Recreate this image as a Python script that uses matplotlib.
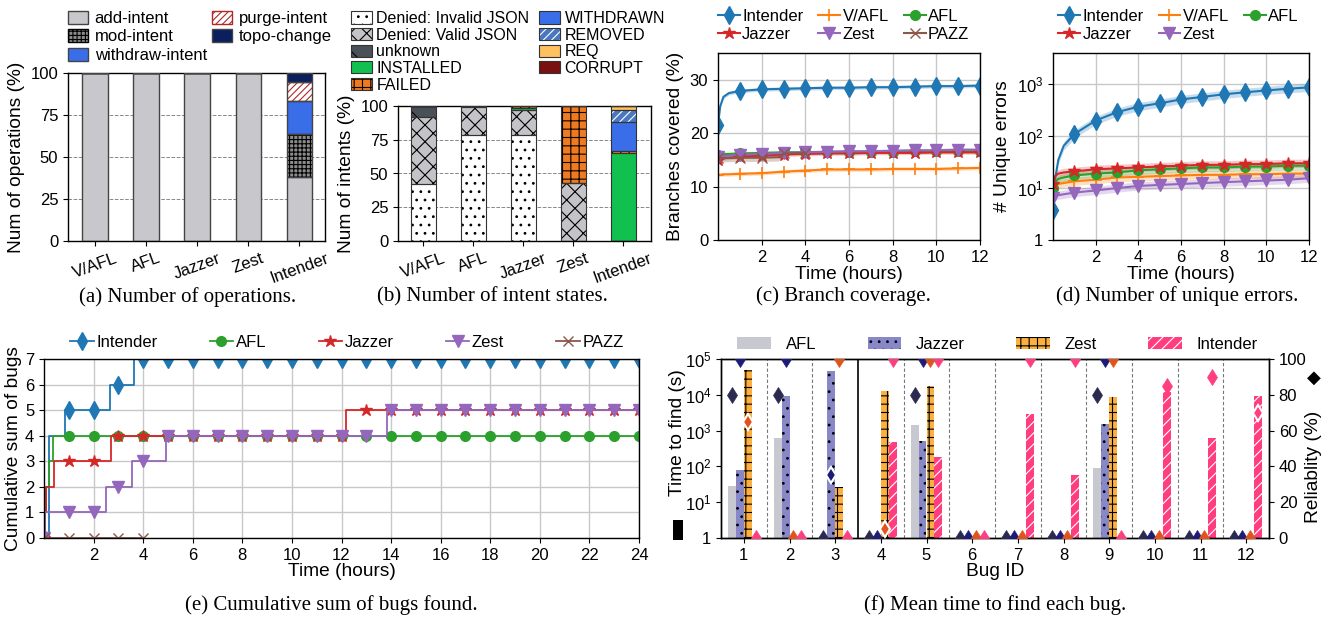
import numpy as np
import matplotlib
matplotlib.use('Agg')
import matplotlib.pyplot as plt
from matplotlib.patches import Patch, Rectangle
from matplotlib.lines import Line2D
from matplotlib.ticker import FuncFormatter, FixedLocator, NullLocator

plt.rcParams['font.family'] = ['Liberation Sans', 'DejaVu Sans']
plt.rcParams['mathtext.default'] = 'regular'
plt.rcParams['hatch.linewidth'] = 0.8
plt.rcParams['axes.linewidth'] = 1.0

# ---------------- data ----------------
tools_ab = ['V/AFL', 'AFL', 'Jazzer', 'Zest', 'Intender']

ops_labels = ['add-intent', 'mod-intent', 'withdraw-intent', 'purge-intent', 'topo-change']
ops_add = [100, 100, 100, 100, 38.3]
ops_mod = [0, 0, 0, 0, 25.2]
ops_withdraw = [0, 0, 0, 0, 20.0]
ops_purge = [0, 0, 0, 0, 11.3]
ops_topo = [0, 0, 0, 0, 5.2]

st_labels = ['Denied: Invalid JSON', 'Denied: Valid JSON', 'unknown', 'INSTALLED', 'FAILED',
             'WITHDRAWN', 'REMOVED', 'REQ', 'CORRUPT']
st_invalid = [42, 78.5, 78.5, 0, 0]
st_valid = [50, 20.8, 18.5, 43, 0]
st_unknown = [8, 0.7, 0, 0, 0]
st_installed = [0, 0, 1.2, 0, 65]
st_failed = [0, 0, 1.8, 57, 1.5]
st_withdrawn = [0, 0, 0, 0, 22]
st_removed = [0, 0, 0, 0, 8.5]
st_req = [0, 0, 0, 0, 3]
st_corrupt = [0, 0, 0, 0, 0]

t_c = [0, 0.1, 0.25, 0.5, 1, 2, 3, 4, 5, 6, 7, 8, 9, 10, 11, 12]
cov_intender = [21.5, 25.0, 26.8, 27.5, 27.9, 28.2, 28.3, 28.4, 28.5, 28.5, 28.6, 28.6, 28.7, 28.8, 28.8, 28.9]
cov_vafl = [12.2, 12.2, 12.3, 12.3, 12.4, 12.5, 12.8, 13.0, 13.2, 13.2, 13.2, 13.3, 13.3, 13.3, 13.4, 13.5]
cov_afl = [16.0, 16.0, 16.1, 16.1, 16.2, 16.3, 16.4, 16.4, 16.5, 16.5, 16.5, 16.5, 16.6, 16.6, 16.6, 16.6]
cov_jazzer = [15.0, 15.2, 15.3, 15.4, 15.6, 15.8, 16.0, 16.1, 16.2, 16.2, 16.3, 16.3, 16.3, 16.4, 16.4, 16.4]
cov_zest = [15.5, 15.6, 15.7, 15.8, 16.0, 16.1, 16.3, 16.4, 16.5, 16.6, 16.6, 16.7, 16.8, 16.8, 16.9, 16.9]
t_pazz = [0, 1, 2, 2.8, 3, 4]
cov_pazz = [15.3, 15.4, 15.4, 15.5, 16.2, 16.3]

t_d = [0, 0.1, 0.25, 0.5, 1, 2, 3, 4, 5, 6, 7, 8, 9, 10, 11, 12]
err_intender = [3.8, 15, 35, 65, 110, 200, 290, 370, 430, 510, 570, 640, 700, 760, 820, 870]
err_vafl = [9, 11, 12, 12.5, 13.5, 14.5, 16, 16.5, 17, 17.5, 18, 18, 18.5, 18.5, 19, 19]
err_afl = [10, 13, 15, 16, 17.5, 19, 20, 22, 23, 24, 25, 25, 26, 26, 27, 27]
err_jazzer = [12, 17, 19, 20, 21, 23, 24, 25, 26, 27, 28, 28, 29, 29, 30, 30]
err_zest = [6.5, 7, 7.3, 7.6, 8.2, 9, 10, 11, 11.5, 12, 12.5, 13, 13.5, 14, 14.5, 15.5]

bug_t_intender = [0, 0.2, 0.83, 2.67, 3.63]
bug_v_intender = [0, 4, 5, 6, 7]
bug_t_afl = [0, 0.03, 0.08, 0.19, 0.36]
bug_v_afl = [0, 1, 2, 3, 4]
bug_t_jazzer = [0, 0.05, 0.09, 0.4, 2.7, 12.2]
bug_v_jazzer = [0, 1, 2, 3, 4, 5]
bug_t_zest = [0, 0.05, 2.52, 3.53, 4.91, 13.82]
bug_v_zest = [0, 1, 2, 3, 4, 5]
bug_t_pazz = [0]
bug_v_pazz = [0]

bug_ids = [1, 2, 3, 4, 5, 6, 7, 8, 9, 10, 11, 12]
ttf_afl = [28, 630, 0, 0, 1400, 0, 0, 0, 92, 0, 0, 0]
ttf_jazzer = [80, 9500, 45000, 0, 520, 0, 0, 0, 1500, 0, 0, 0]
ttf_zest = [50000, 0, 27, 13000, 18000, 0, 0, 0, 8900, 0, 0, 0]
ttf_intender = [0, 0, 0, 480, 180, 0, 2900, 57, 0, 12000, 620, 9300]
rel_afl = [80, 80, 0, 0, 80, 0, 0, 0, 80, 0, 0, 0]
rel_jazzer = [100, 100, 35, 0, 100, 0, 0, 0, 100, 0, 0, 0]
rel_zest = [65, 0, 100, 5, 100, 0, 0, 0, 100, 0, 0, 0]
rel_intender = [0, 0, 0, 100, 100, 0, 100, 100, 0, 85, 90, 70]

# ---------------- figure ----------------
W, H = 1330, 621
fig = plt.figure(figsize=(W / 100, H / 100), dpi=100)


def ax_at(l, t, r, b):
    return fig.add_axes([l / W, 1 - b / H, (r - l) / W, (b - t) / H])


TICK = 12
LAB = 13.8
LEG = 12

C_GRAY = '#c8c8cc'
C_BLUE = '#3a6ee8'
C_NAVY = '#0b1f5e'
C_RED = '#b02828'
C_GREEN = '#12c050'
C_ORANGE = '#f07a20'

# ---------- (a) ----------
axa = ax_at(68, 73, 325, 241)
xa = np.arange(len(tools_ab))
bw = 0.5
specs_a = [
    (ops_add, dict(facecolor=C_GRAY, edgecolor='#444444', hatch=None)),
    (ops_mod, dict(facecolor='#8c8c8c', edgecolor='black', hatch='++++')),
    (ops_withdraw, dict(facecolor=C_BLUE, edgecolor='#222244', hatch=None)),
    (ops_purge, dict(facecolor='white', edgecolor=C_RED, hatch='/////')),
    (ops_topo, dict(facecolor=C_NAVY, edgecolor=C_NAVY, hatch=None)),
]
bottom = np.zeros(len(tools_ab))
handles_a = []
for (vals, st), lab in zip(specs_a, ops_labels):
    v = np.array(vals, dtype=float)
    axa.bar(xa, v, bw, bottom=bottom, lw=0, zorder=2, **st)
    axa.bar(xa, v, bw, bottom=bottom, fill=False, edgecolor='#444444', lw=1.0, zorder=3)
    handles_a.append(Patch(facecolor=st['facecolor'], edgecolor=st['edgecolor'] if st['hatch'] else '#444444',
                           hatch=st['hatch'], lw=1.0, label=lab))
    bottom += v
axa.set_xlim(-0.53, 4.5)
axa.set_ylim(0, 100)
axa.set_yticks([0, 25, 50, 75, 100])
axa.yaxis.grid(True, ls='--', color='#888888', lw=0.7)
axa.set_axisbelow(True)
axa.set_xticks(xa)
axa.set_xticklabels(tools_ab, rotation=20, ha='center')
axa.tick_params(labelsize=TICK)
axa.set_ylabel('Num of operations (%)', fontsize=LAB)
axa.legend(handles=handles_a, ncol=2, loc='lower left', bbox_to_anchor=(0.0, 1.06),
           frameon=False, fontsize=LEG, borderpad=0, borderaxespad=0, handlelength=1.2,
           handleheight=0.8, handletextpad=0.4, columnspacing=0.3, labelspacing=0.2)

# ---------- (b) ----------
axb = ax_at(398, 106, 651, 241)
specs_b = [
    (st_invalid, dict(facecolor='white', edgecolor='black', hatch='..')),
    (st_valid, dict(facecolor='#c4c4c8', edgecolor='black', hatch='xx')),
    (st_unknown, dict(facecolor='#4a5058', edgecolor='black', hatch='\\')),
    (st_installed, dict(facecolor=C_GREEN, edgecolor=C_GREEN, hatch=None)),
    (st_failed, dict(facecolor=C_ORANGE, edgecolor='black', hatch='++')),
    (st_withdrawn, dict(facecolor=C_BLUE, edgecolor=C_BLUE, hatch=None)),
    (st_removed, dict(facecolor='#4a78c0', edgecolor='white', hatch='////')),
    (st_req, dict(facecolor='#ffc060', edgecolor='#ffc060', hatch=None)),
    (st_corrupt, dict(facecolor='#7a1010', edgecolor='#7a1010', hatch=None)),
]
bottom = np.zeros(len(tools_ab))
handles_b = []
for (vals, st), lab in zip(specs_b, st_labels):
    v = np.array(vals, dtype=float)
    axb.bar(xa, v, bw, bottom=bottom, lw=0, zorder=2, **st)
    axb.bar(xa, v, bw, bottom=bottom, fill=False, edgecolor='#333333', lw=0.8, zorder=3)
    ph = Patch(facecolor=st['facecolor'], edgecolor=st['edgecolor'], hatch=st['hatch'], lw=0)
    handles_b.append((ph, Patch(fill=False, edgecolor='#333333', lw=0.8)))
    bottom += v
axb.set_xlim(-0.5, 4.56)
axb.set_ylim(0, 100)
axb.set_yticks([0, 25, 50, 75, 100])
axb.yaxis.grid(True, ls='--', color='#888888', lw=0.7)
axb.set_axisbelow(True)
axb.set_xticks(xa)
axb.set_xticklabels(tools_ab, rotation=20, ha='center')
axb.tick_params(labelsize=TICK)
axb.set_ylabel('Num of intents (%)', fontsize=LAB)
axb.legend(handles=handles_b, labels=st_labels, ncol=2, loc='lower left',
           bbox_to_anchor=(-0.186, 1.1), frameon=False, fontsize=11.5, borderpad=0,
           borderaxespad=0, handlelength=1.3, handleheight=0.8, handletextpad=0.3,
           columnspacing=0.6, labelspacing=0.1)

# ---------- line styles ----------
COL = {'Intender': '#1f77b4', 'V/AFL': '#ff7f0e', 'AFL': '#2ca02c', 'Jazzer': '#d62728',
       'Zest': '#9467bd', 'PAZZ': '#8c564b'}
MK = {'Intender': dict(marker='d', ms=9), 'V/AFL': dict(marker='+', ms=9, mew=1.2),
      'AFL': dict(marker='o', ms=7), 'Jazzer': dict(marker='*', ms=9),
      'Zest': dict(marker='v', ms=8), 'PAZZ': dict(marker='x', ms=7, mew=1.0)}

# ---------- (c) ----------
axc = ax_at(718, 53, 980, 240)
mark_idx = [i for i, t in enumerate(t_c) if float(t).is_integer()]
series_c = [('Intender', t_c, cov_intender), ('V/AFL', t_c, cov_vafl), ('AFL', t_c, cov_afl),
            ('Jazzer', t_c, cov_jazzer), ('Zest', t_c, cov_zest)]
lines_c = {}
for name, tt, yy in series_c:
    yy = np.array(yy)
    axc.fill_between(tt, yy - 0.35, yy + 0.35, color=COL[name], alpha=0.25, lw=0)
    ln, = axc.plot(tt, yy, color=COL[name], lw=1.5, markevery=mark_idx, **MK[name], label=name)
    lines_c[name] = ln
yp = np.array(cov_pazz)
axc.fill_between(t_pazz[:4], yp[:4] - 0.7, yp[:4] + 0.7, color=COL['PAZZ'], alpha=0.3, lw=0)
ln, = axc.plot(t_pazz, yp, color=COL['PAZZ'], lw=1.5, markevery=[0, 1, 2, 4, 5], **MK['PAZZ'], label='PAZZ')
lines_c['PAZZ'] = ln
axc.set_xlim(0, 12)
axc.set_ylim(0, 35)
axc.set_xticks([2, 4, 6, 8, 10, 12])
axc.set_yticks([0, 10, 20, 30])
axc.grid(True, color='#c8c8c8', lw=1.0)
axc.set_axisbelow(True)
axc.tick_params(labelsize=TICK)
axc.set_xlabel('Time (hours)', fontsize=LAB, labelpad=1)
axc.set_ylabel('Branches covered (%)', fontsize=LAB)
order_c = ['Intender', 'Jazzer', 'V/AFL', 'Zest', 'AFL', 'PAZZ']
axc.legend([lines_c[k] for k in order_c], order_c, ncol=3, loc='lower left',
           bbox_to_anchor=(0.0, 1.06), frameon=False, fontsize=LEG, borderpad=0,
           borderaxespad=0, handlelength=1.3, handletextpad=0.15, columnspacing=0.9,
           labelspacing=0.15)

# ---------- (d) ----------
axd = ax_at(1053, 53, 1309, 240)
series_d = [('Intender', err_intender), ('V/AFL', err_vafl), ('AFL', err_afl),
            ('Jazzer', err_jazzer), ('Zest', err_zest)]
lines_d = {}
mark_idx_d = [i for i, t in enumerate(t_d) if float(t).is_integer()]
for name, yy in series_d:
    yy = np.array(yy, dtype=float)
    axd.fill_between(t_d, yy / 1.2, yy * 1.2, color=COL[name], alpha=0.25, lw=0)
    ln, = axd.plot(t_d, yy, color=COL[name], lw=1.5, markevery=mark_idx_d, **MK[name], label=name)
    lines_d[name] = ln
axd.set_yscale('log')
axd.set_xlim(0, 12)
axd.set_ylim(1, 4000)
axd.set_xticks([2, 4, 6, 8, 10, 12])
axd.yaxis.set_major_locator(FixedLocator([1, 10, 100, 1000]))
axd.yaxis.set_minor_locator(NullLocator())


def log_fmt(v, pos):
    if abs(v - 1) < 1e-9:
        return '1'
    return r'$10^{%d}$' % int(round(np.log10(v)))


axd.yaxis.set_major_formatter(FuncFormatter(log_fmt))
axd.grid(True, color='#c8c8c8', lw=1.0)
axd.set_axisbelow(True)
axd.tick_params(labelsize=TICK)
axd.set_xlabel('Time (hours)', fontsize=LAB, labelpad=1)
axd.set_ylabel('# Unique errors', fontsize=LAB)
order_d = ['Intender', 'Jazzer', 'V/AFL', 'Zest', 'AFL']
axd.legend([lines_d[k] for k in order_d], order_d, ncol=3, loc='lower left',
           bbox_to_anchor=(0.02, 1.06), frameon=False, fontsize=LEG, borderpad=0,
           borderaxespad=0, handlelength=1.3, handletextpad=0.15, columnspacing=0.9,
           labelspacing=0.15)

# ---------- (e) ----------
axe = ax_at(44, 359, 639, 538)
series_e = [('Intender', bug_t_intender, bug_v_intender, 24),
            ('AFL', bug_t_afl, bug_v_afl, 24),
            ('Jazzer', bug_t_jazzer, bug_v_jazzer, 24),
            ('Zest', bug_t_zest, bug_v_zest, 24),
            ('PAZZ', bug_t_pazz, bug_v_pazz, 4)]
lines_e = {}
for name, tt, vv, end in series_e:
    tt = list(tt) + [end]
    vv = list(vv) + [vv[-1]]
    axe.step(tt, vv, where='post', color=COL[name], lw=1.3)
    xm = np.arange(0, end + 1)
    idx = np.searchsorted(np.array(tt[:-1]), xm, side='right') - 1
    ym = np.array(vv[:-1])[idx]
    axe.plot(xm, ym, ls='none', color=COL[name], **MK[name])
    lines_e[name] = Line2D([], [], color=COL[name], lw=1.3, **MK[name])
axe.set_xlim(0, 24)
axe.set_ylim(0, 7)
axe.set_xticks(np.arange(2, 25, 2))
axe.set_yticks(np.arange(0, 8))
axe.grid(True, color='#c8c8c8', lw=1.0)
axe.set_axisbelow(True)
axe.tick_params(labelsize=TICK)
axe.set_xlabel('Time (hours)', fontsize=LAB, labelpad=0)
axe.set_ylabel('Cumulative sum of bugs', fontsize=LAB, labelpad=2)
order_e = ['Intender', 'AFL', 'Jazzer', 'Zest', 'PAZZ']
axe.legend([lines_e[k] for k in order_e], order_e, ncol=5, loc='lower left', mode='expand',
           bbox_to_anchor=(0.044, 1.05, 0.93, 0.1), frameon=False, fontsize=LEG, borderpad=0,
           borderaxespad=0, handlelength=1.4, handletextpad=0.15)

# ---------- (f) ----------
axf = ax_at(721, 359, 1269, 538)
axf2 = axf.twinx()
bid = np.array(bug_ids, dtype=float)
w = 0.175
fuzz_f = [
    ('AFL', ttf_afl, rel_afl, dict(facecolor='#c8c8d0', edgecolor='#c8c8d0', hatch=None), '#2a2a50'),
    ('Jazzer', ttf_jazzer, rel_jazzer, dict(facecolor='#8888c8', edgecolor='black', hatch='..'), '#1c1c78'),
    ('Zest', ttf_zest, rel_zest, dict(facecolor='#fbb040', edgecolor='black', hatch='++'), '#e0541c'),
    ('Intender', ttf_intender, rel_intender, dict(facecolor='#ff3d7f', edgecolor='white', hatch='///'), '#ff3d7f'),
]
YMIN, YMAX = 1, 1e5
handles_f = []
for k, (name, ttf, rel, st, mc) in enumerate(fuzz_f):
    xs = bid + (k - 1.5) * w
    t = np.array(ttf, dtype=float)
    has = t > 0
    axf.bar(xs[has], t[has] - YMIN, w, bottom=YMIN, lw=0, zorder=2, **st)
    handles_f.append(Patch(lw=0, label=name, **st))
    r = np.array(rel, dtype=float)
    rel_as_time = 10 ** (np.log10(YMIN) + r / 100 * (np.log10(YMAX) - np.log10(YMIN)))
    inside = has & (t > rel_as_time)
    for xi, ri, ins in zip(xs, r, inside):
        axf2.plot([xi], [ri], ls='none', marker='d', ms=8.5, color=mc,
                  mec='white' if ins else mc, mew=1.5 if ins else 0.5, zorder=5)
axf.set_yscale('log')
axf.set_ylim(YMIN, YMAX)
axf.set_xlim(0.5, 12.5)
for xv in np.arange(1.5, 12.5, 1.0):
    if abs(xv - 3.5) < 1e-9:
        axf.axvline(xv, color='black', lw=1.2, zorder=1)
    else:
        axf.axvline(xv, color='#777777', lw=0.8, ls=(0, (3, 2)), zorder=1)
axf.yaxis.set_major_locator(FixedLocator([1, 10, 100, 1000, 1e4, 1e5]))
axf.yaxis.set_minor_locator(NullLocator())
axf.yaxis.set_major_formatter(FuncFormatter(log_fmt))
axf.set_xticks(bug_ids)
axf.tick_params(labelsize=TICK)
axf.set_xlabel('Bug ID', fontsize=LAB, labelpad=0)
axf.set_ylabel('Time to find (s)', fontsize=LAB)
axf.yaxis.set_label_coords(-0.064, 0.59)
fig.add_artist(Rectangle((673 / W, 1 - 540 / H), 10 / W, 20 / H, transform=fig.transFigure,
                         facecolor='black', edgecolor='none'))
axf2.set_ylim(0, 100)
axf2.set_yticks([0, 20, 40, 60, 80, 100])
axf2.tick_params(labelsize=TICK)
axf2.set_ylabel('Reliablity (%)', fontsize=LAB)
axf2.yaxis.set_label_coords(1.066, 0.40)
fig.text(1314 / W, 1 - 378 / H, '\u25C6', fontsize=13, ha='center', va='center',
         family=['DejaVu Sans'])
axf.legend(handles=handles_f, ncol=4, loc='lower left', mode='expand',
           bbox_to_anchor=(0.03, 1.04, 0.95, 0.1), frameon=False, fontsize=LEG, borderpad=0,
           borderaxespad=0, handlelength=2.0, handleheight=0.8, handletextpad=0.9)

# ---------- captions ----------
CAP = dict(family=['Liberation Serif', 'DejaVu Serif'], fontsize=15, ha='center', va='center')
fig.text(188 / W, 1 - 297 / H, '(a) Number of operations.', **CAP)
fig.text(492 / W, 1 - 297 / H, '(b) Number of intent states.', **CAP)
fig.text(843 / W, 1 - 296 / H, '(c) Branch coverage.', **CAP)
fig.text(1177 / W, 1 - 296 / H, '(d) Number of unique errors.', **CAP)
fig.text(331 / W, 1 - 605 / H, '(e) Cumulative sum of bugs found.', **CAP)
fig.text(995 / W, 1 - 605 / H, '(f) Mean time to find each bug.', **CAP)

fig.savefig('out.png', dpi=100)
